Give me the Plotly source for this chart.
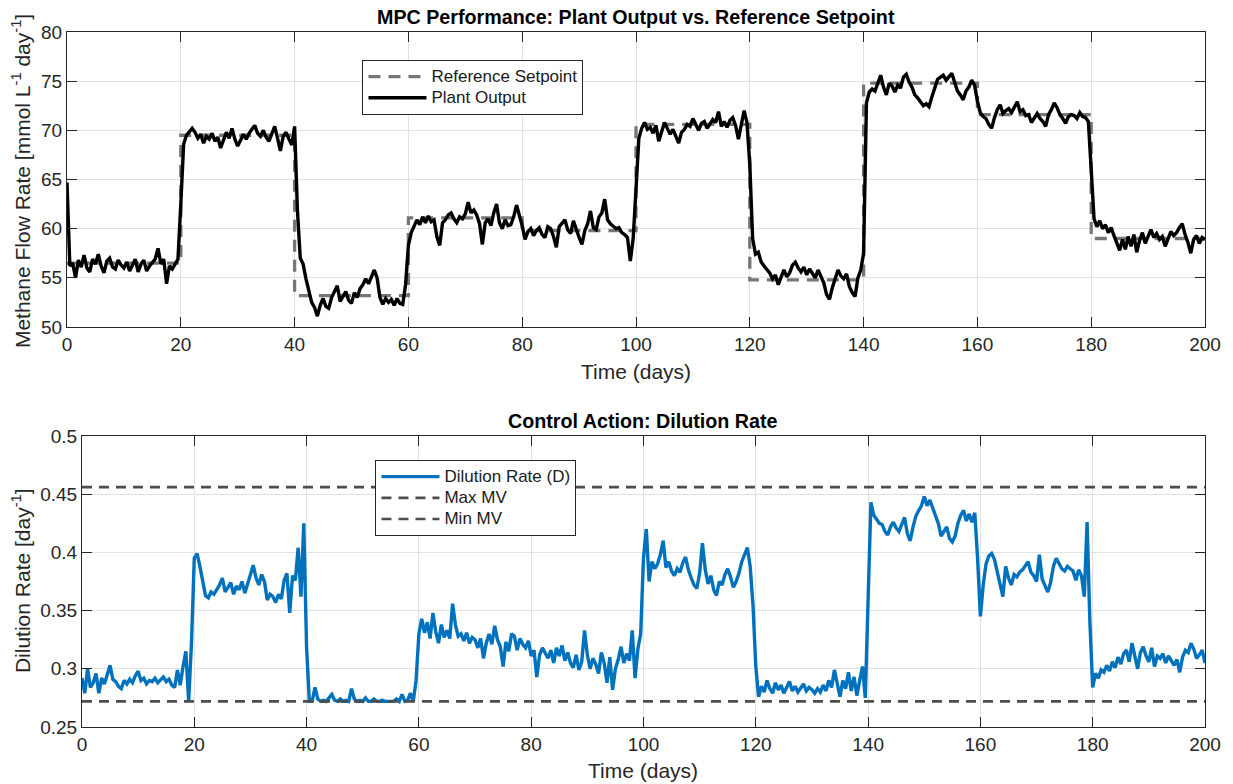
import plotly.graph_objects as go

# ---------------- data ----------------
# sampling grid of the simulation: every half day from 0 to 200
time_days = [k / 2 for k in range(401)]

plant_output = [
    # 0 - 9.5
    64.7, 56.2, 56.5, 55.0, 56.8, 56.1, 57.3, 56.0, 55.6, 56.9, 56.4, 57.4, 56.2, 55.5, 56.7, 57.0, 56.1, 55.9, 56.8, 56.3,
    # 10 - 19.5
    56.0, 56.6, 55.7, 56.3, 56.9, 55.6, 56.4, 56.8, 55.7, 56.2, 56.5, 56.9, 58.0, 56.4, 56.9, 54.4, 56.2, 55.9, 56.4, 56.9,
    # 20 - 29.5
    62.5, 68.6, 69.5, 69.9, 70.2, 69.8, 69.2, 69.6, 68.7, 69.4, 69.1, 69.7, 68.9, 69.3, 68.2, 69.0, 69.8, 69.2, 70.2, 69.1,
    # 30 - 39.5
    68.4, 69.0, 69.6, 69.1, 69.7, 70.1, 70.5, 69.7, 69.4, 70.0, 69.3, 68.9, 69.6, 70.4, 69.2, 67.9, 69.4, 69.8, 69.1, 68.5,
    # 40 - 49.5
    70.4, 61.8, 57.0, 56.4, 54.9, 53.6, 52.5, 52.0, 51.1, 52.2, 52.9, 52.1, 51.9, 53.0, 53.7, 54.2, 52.6, 53.1, 53.6, 52.7,
    # 50 - 59.5
    52.4, 53.5, 53.0, 53.9, 54.3, 54.9, 54.4, 55.1, 55.8, 55.0, 53.0, 52.3, 52.9, 52.5, 52.8, 52.2, 52.9, 52.4, 52.3, 54.3,
    # 60 - 69.5
    58.3, 59.6, 60.3, 60.9, 60.4, 61.2, 60.6, 61.3, 60.7, 60.9, 59.2, 58.3, 60.6, 60.9, 61.4, 61.6, 61.0, 60.6, 61.2, 61.0,
    # 70 - 79.5
    61.5, 62.7, 61.6, 61.9, 61.4, 60.5, 58.4, 60.6, 61.0, 60.3, 61.6, 62.5, 60.6, 60.0, 60.9, 60.3, 60.4, 61.2, 62.4, 61.4,
    # 80 - 89.5
    60.3, 58.9, 59.7, 60.0, 59.3, 59.8, 60.1, 59.4, 59.1, 60.2, 60.0, 59.2, 58.1, 60.2, 60.5, 60.9, 59.9, 59.5, 60.8, 59.9,
    # 90 - 99.5
    59.1, 58.4, 59.8, 60.5, 61.8, 60.1, 59.9, 61.2, 61.6, 63.0, 60.9, 60.5, 60.3, 60.0, 60.1, 59.6, 59.4, 59.1, 56.7, 59.0,
    # 100 - 109.5
    64.0, 69.2, 70.2, 70.8, 70.1, 70.3, 69.7, 70.5, 68.9, 69.8, 70.8, 70.2, 69.6, 70.1, 69.4, 68.7, 69.8, 70.1, 70.6, 70.4,
    # 110 - 119.5
    71.2, 70.5, 70.0, 70.7, 70.9, 70.2, 70.6, 71.1, 70.8, 71.9, 70.4, 70.9, 70.3, 71.0, 71.3, 70.5, 69.1, 70.6, 72.0, 70.8,
    # 120 - 129.5
    66.5, 59.0, 57.4, 57.6, 56.6, 56.2, 55.9, 55.5, 54.9, 55.3, 54.3, 55.0, 55.8, 55.1, 55.5, 56.3, 56.6, 56.0, 55.6, 56.1,
    # 130 - 139.5
    55.3, 55.9, 55.4, 55.0, 55.8, 55.1, 54.5, 53.3, 52.8, 54.0, 54.8, 55.8, 55.2, 54.9, 55.4, 54.1, 53.5, 53.1, 55.0, 55.8,
    # 140 - 149.5
    57.5, 72.8, 73.9, 74.2, 74.0, 74.9, 75.6, 74.4, 73.6, 74.8, 74.5, 73.9, 74.6, 74.3, 75.4, 75.7, 74.9, 74.4, 73.6, 73.3,
    # 150 - 159.5
    72.9, 72.5, 72.7, 72.4, 73.4, 74.3, 75.2, 75.4, 75.6, 75.1, 75.5, 75.8, 74.9, 74.0, 73.6, 73.1, 74.0, 74.4, 75.1, 74.6,
    # 160 - 169.5
    73.0, 71.8, 71.4, 71.2, 70.6, 70.2, 71.3, 72.1, 72.6, 71.7, 72.0, 72.2, 71.8, 72.4, 72.9, 71.9, 72.1, 71.5, 71.6, 70.8,
    # 170 - 179.5
    71.3, 71.7, 71.2, 70.9, 70.4, 71.6, 72.1, 72.8, 72.3, 71.6, 71.2, 70.7, 71.4, 71.6, 71.5, 71.2, 71.8, 71.4, 71.3, 70.9,
    # 180 - 189.5
    66.0, 61.0, 60.2, 60.8, 60.0, 60.4, 59.6, 60.1, 59.3, 58.6, 57.8, 58.9, 57.9, 59.2, 58.2, 59.4, 57.6, 58.8, 59.6, 58.5,
    # 190 - 200
    59.3, 59.9, 59.1, 59.5, 58.9, 59.2, 58.2, 59.0, 59.7, 59.3, 59.6, 60.1, 60.5, 59.4, 58.6, 57.5, 58.9, 59.3, 58.5, 59.1,
    58.9,
]

dilution_rate = [
    # 0 - 9.5
    0.292, 0.279, 0.300, 0.284, 0.288, 0.296, 0.279, 0.292, 0.287, 0.295, 0.303, 0.291, 0.289, 0.285, 0.283, 0.290, 0.287, 0.291, 0.288, 0.294,
    # 10 - 19.5
    0.298, 0.290, 0.292, 0.287, 0.290, 0.289, 0.292, 0.288, 0.291, 0.293, 0.289, 0.291, 0.286, 0.284, 0.299, 0.286, 0.302, 0.315, 0.272, 0.322,
    # 20 - 29.5
    0.395, 0.399, 0.388, 0.377, 0.363, 0.361, 0.366, 0.364, 0.368, 0.372, 0.378, 0.366, 0.370, 0.374, 0.364, 0.371, 0.368, 0.375, 0.365, 0.373,
    # 30 - 39.5
    0.380, 0.389, 0.378, 0.372, 0.381, 0.375, 0.359, 0.364, 0.362, 0.357, 0.364, 0.360, 0.376, 0.382, 0.348, 0.380, 0.376, 0.404, 0.362, 0.425,
    # 40 - 49.5
    0.318, 0.272, 0.272, 0.284, 0.274, 0.272, 0.273, 0.272, 0.275, 0.278, 0.273, 0.272, 0.274, 0.272, 0.273, 0.272, 0.283, 0.274, 0.272, 0.273,
    # 50 - 59.5
    0.272, 0.275, 0.272, 0.272, 0.274, 0.272, 0.272, 0.273, 0.272, 0.272, 0.272, 0.272, 0.274, 0.272, 0.278, 0.272, 0.273, 0.279, 0.272, 0.290,
    # 60 - 69.5
    0.330, 0.343, 0.331, 0.340, 0.326, 0.348, 0.332, 0.322, 0.338, 0.327, 0.333, 0.326, 0.356, 0.338, 0.328, 0.330, 0.324, 0.331, 0.322, 0.327,
    # 70 - 79.5
    0.325, 0.318, 0.326, 0.309, 0.322, 0.330, 0.321, 0.337, 0.325, 0.319, 0.302, 0.323, 0.315, 0.330, 0.328, 0.316, 0.326, 0.321, 0.318, 0.324,
    # 80 - 89.5
    0.311, 0.316, 0.293, 0.312, 0.318, 0.314, 0.309, 0.316, 0.305, 0.318, 0.311, 0.320, 0.307, 0.314, 0.305, 0.301, 0.312, 0.299, 0.306, 0.333,
    # 90 - 99.5
    0.312, 0.300, 0.309, 0.304, 0.296, 0.314, 0.305, 0.288, 0.310, 0.282, 0.300, 0.308, 0.319, 0.305, 0.313, 0.307, 0.333, 0.292, 0.317, 0.330,
    # 100 - 109.5
    0.395, 0.420, 0.375, 0.392, 0.386, 0.390, 0.398, 0.410, 0.387, 0.392, 0.384, 0.380, 0.386, 0.383, 0.391, 0.396, 0.385, 0.378, 0.372, 0.369,
    # 110 - 119.5
    0.382, 0.408, 0.385, 0.373, 0.380, 0.368, 0.363, 0.375, 0.372, 0.381, 0.386, 0.379, 0.370, 0.375, 0.382, 0.392, 0.398, 0.404, 0.388, 0.355,
    # 120 - 129.5
    0.302, 0.276, 0.285, 0.280, 0.290, 0.283, 0.279, 0.288, 0.282, 0.286, 0.279, 0.284, 0.289, 0.281, 0.285, 0.280, 0.283, 0.287, 0.281, 0.284,
    # 130 - 139.5
    0.282, 0.279, 0.283, 0.280, 0.286, 0.281, 0.290, 0.284, 0.299, 0.287, 0.276, 0.290, 0.283, 0.297, 0.281, 0.293, 0.277, 0.290, 0.302, 0.275,
    # 140 - 149.5
    0.365, 0.443, 0.432, 0.428, 0.425, 0.424, 0.418, 0.415, 0.422, 0.426, 0.421, 0.418, 0.425, 0.430, 0.416, 0.410, 0.422, 0.431, 0.436, 0.440,
    # 150 - 159.5
    0.448, 0.440, 0.445, 0.438, 0.432, 0.425, 0.414, 0.418, 0.422, 0.412, 0.409, 0.414, 0.425, 0.432, 0.436, 0.427, 0.433, 0.426, 0.434, 0.395,
    # 160 - 169.5
    0.345, 0.372, 0.390, 0.397, 0.399, 0.394, 0.384, 0.375, 0.362, 0.388, 0.378, 0.372, 0.381, 0.379, 0.383, 0.385, 0.389, 0.392, 0.383, 0.380,
    # 170 - 179.5
    0.375, 0.398, 0.377, 0.372, 0.366, 0.374, 0.388, 0.395, 0.390, 0.386, 0.384, 0.388, 0.386, 0.384, 0.376, 0.385, 0.380, 0.362, 0.426, 0.340,
    # 180 - 189.5
    0.284, 0.296, 0.292, 0.299, 0.297, 0.303, 0.298, 0.306, 0.301, 0.310, 0.304, 0.313, 0.316, 0.306, 0.322, 0.309, 0.300, 0.314, 0.319, 0.311,
    # 190 - 200
    0.306, 0.318, 0.302, 0.311, 0.309, 0.313, 0.305, 0.311, 0.307, 0.303, 0.308, 0.297, 0.310, 0.316, 0.314, 0.322, 0.317, 0.309, 0.312, 0.316,
    0.305,
]

setpoint_edges = [0, 20, 40, 60, 80, 100, 120, 140, 160, 180, 200]
setpoint_levels = [56.5, 69.5, 53.2, 61.1, 59.8, 70.6, 54.8, 74.8, 71.6, 59.0]

mv_max = 0.456
mv_min = 0.272

x_tick_vals = [0, 20, 40, 60, 80, 100, 120, 140, 160, 180, 200]
y1_tick_vals = [50, 55, 60, 65, 70, 75, 80]
y2_tick_vals = [0.25, 0.3, 0.35, 0.4, 0.45, 0.5]
y2_tick_text = ["0.25", "0.3", "0.35", "0.4", "0.45", "0.5"]

# ---------------- styling ----------------
FONT = "Liberation Sans, Arial, Helvetica, sans-serif"
AX_COLOR = "#262626"
GRID = "#e1e1e1"

W, H = 1233, 784
ML, MR, MT, MB = 67, 26, 32, 57
PW, PH = W - ML - MR, H - MT - MB


def px_x(px):
    return (px - ML) / PW


def px_y(py):
    return (H - MB - py) / PH


def legend_label(txt):
    # legend rows are spaced for a small font, label text drawn larger (as in the reference)
    return '<span style="font-size:17px">' + txt + "</span>"


axis_common = dict(
    showline=True, linecolor=AX_COLOR, linewidth=1, mirror="allticks",
    ticks="inside", ticklen=10, tickwidth=1, tickcolor=AX_COLOR,
    showgrid=True, gridcolor=GRID, gridwidth=1, zeroline=False,
    tickfont=dict(family=FONT, size=19, color=AX_COLOR),
)

fig = go.Figure()

fig.add_trace(go.Scatter(
    x=setpoint_edges, y=setpoint_levels + [setpoint_levels[-1]],
    mode="lines", name=legend_label("Reference Setpoint"),
    line=dict(shape="hv", color="#767676", width=3.3, dash="12px,8px"),
    xaxis="x", yaxis="y", legend="legend",
))
fig.add_trace(go.Scatter(
    x=time_days, y=plant_output, mode="lines", name=legend_label("Plant Output"),
    line=dict(color="#000000", width=3.4),
    xaxis="x", yaxis="y", legend="legend",
))
fig.add_trace(go.Scatter(
    x=time_days, y=dilution_rate, mode="lines", name=legend_label("Dilution Rate (D)"),
    line=dict(color="#0072BD", width=3.4),
    xaxis="x2", yaxis="y2", legend="legend2",
))
fig.add_trace(go.Scatter(
    x=[x_tick_vals[0], x_tick_vals[-1]], y=[mv_max, mv_max], mode="lines", name=legend_label("Max MV"),
    line=dict(color="#4d4d4d", width=2.7, dash="10px,7px"),
    xaxis="x2", yaxis="y2", legend="legend2",
))
fig.add_trace(go.Scatter(
    x=[x_tick_vals[0], x_tick_vals[-1]], y=[mv_min, mv_min], mode="lines", name=legend_label("Min MV"),
    line=dict(color="#4d4d4d", width=2.7, dash="10px,7px"),
    xaxis="x2", yaxis="y2", legend="legend2",
))

legend_common = dict(
    xanchor="left", yanchor="top", bgcolor="#ffffff",
    bordercolor=AX_COLOR, borderwidth=1,
    font=dict(family=FONT, size=14, color="#1a1a1a"),
    itemwidth=58, tracegroupgap=0, traceorder="normal",
)

fig.update_layout(
    width=W, height=H,
    margin=dict(l=ML, r=MR, t=MT, b=MB, pad=0),
    paper_bgcolor="#ffffff", plot_bgcolor="#ffffff",
    font=dict(family=FONT, color=AX_COLOR),
    showlegend=True,
    xaxis=dict(axis_common, domain=[0, 1], range=[0, 200], tickvals=x_tick_vals, anchor="y"),
    yaxis=dict(axis_common, domain=[px_y(327), 1], range=[50, 80], tickvals=y1_tick_vals, anchor="x"),
    xaxis2=dict(axis_common, domain=[px_x(82), 1], range=[0, 200], tickvals=x_tick_vals, anchor="y2"),
    yaxis2=dict(axis_common, domain=[0, px_y(436)], range=[0.25, 0.5], tickvals=y2_tick_vals,
                ticktext=y2_tick_text, anchor="x2"),
    legend=dict(legend_common, x=px_x(363), y=px_y(60)),
    legend2=dict(legend_common, x=px_x(376), y=px_y(460)),
)

annotations = [
    dict(text="<b>MPC Performance: Plant Output vs. Reference Setpoint</b>", x=px_x(637), y=px_y(17),
         font=dict(size=19.7, color="#000000")),
    dict(text="Time (days)", x=px_x(637), y=px_y(371), font=dict(size=21, color=AX_COLOR)),
    dict(text="Methane Flow Rate [mmol L<sup>-1</sup> day<sup>-1</sup>]", x=px_x(21), y=px_y(181),
         textangle=-90, font=dict(size=21, color=AX_COLOR)),
    dict(text="<b>Control Action: Dilution Rate</b>", x=px_x(644), y=px_y(421),
         font=dict(size=19.7, color="#000000")),
    dict(text="Time (days)", x=px_x(644), y=px_y(771), font=dict(size=21, color=AX_COLOR)),
    dict(text="Dilution Rate [day<sup>-1</sup>]", x=px_x(21), y=px_y(581),
         textangle=-90, font=dict(size=21, color=AX_COLOR)),
]
for a in annotations:
    a.update(xref="paper", yref="paper", xanchor="center", yanchor="middle", showarrow=False)
    a["font"]["family"] = FONT
fig.update_layout(annotations=annotations)

fig.write_html("out.html", config={"displayModeBar": False})
